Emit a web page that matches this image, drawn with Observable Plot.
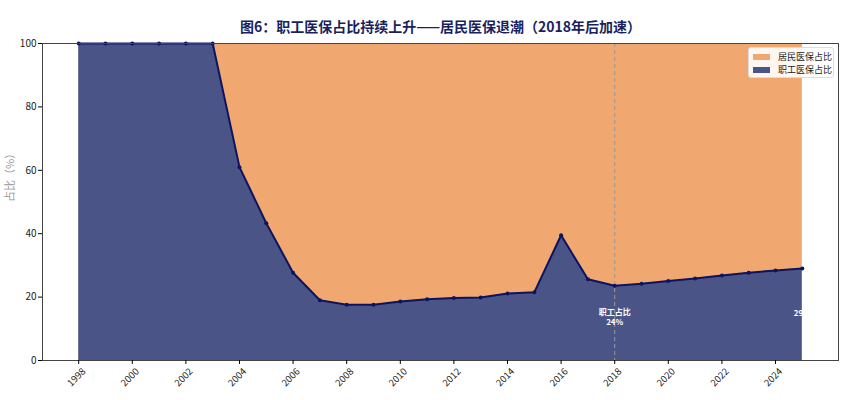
<!DOCTYPE html>
<html>
<head>
<meta charset="utf-8">
<script src="https://cdn.jsdelivr.net/npm/d3@7"></script>
<script src="https://cdn.jsdelivr.net/npm/@observablehq/plot@0.6"></script>
<style>
  body { margin: 0; background: #fff; }
  #wrap { position: relative; width: 851px; height: 400px; font-family: "Noto Sans CJK SC", "Noto Sans", sans-serif; }
  #legend { position: absolute; left: 748px; top: 47px; width: 86px; height: 31px; background: rgba(255,255,255,0.9); border: 1px solid #ddd; border-radius: 3px; box-sizing: border-box; font-size: 9px; color: #222; }
  .row { position: absolute; left: 4px; display: flex; align-items: center; line-height: 11px; }
  .sw { width: 17px; height: 6px; margin-right: 8px; }
</style>
</head>
<body>
<div id="wrap"></div>
<script>
const years = [1998,1999,2000,2001,2002,2003,2004,2005,2006,2007,2008,2009,2010,2011,2012,2013,2014,2015,2016,2017,2018,2019,2020,2021,2022,2023,2024,2025];
const employeeShare = [100,100,100,100,100,100,61.0,43.3,27.7,19.0,17.6,17.6,18.6,19.3,19.7,19.9,21.1,21.5,39.5,25.6,23.6,24.2,25.1,25.9,26.8,27.7,28.4,29.0];
const tickYears = [1998,2000,2002,2004,2006,2008,2010,2012,2014,2016,2018,2020,2022,2024];
const yTicks = [0,20,40,60,80,100];
const seriesNames = ["居民医保占比", "职工医保占比"];
const titleText = "图6：职工医保占比持续上升——居民医保退潮（2018年后加速）";
const yLabel = "占比（%）";
const annotations = [
  {year: 2018, y: 13.9, text: "职工占比\n24%"},
  {year: 2025, y: 15.1, text: "29%"}
];
const markerYear = 2018;

const data = years.map((year, i) => ({year, emp: employeeShare[i]}));
const NAVY_FILL = "#4b5487", ORANGE = "#f0a870", LINE = "#0b1460";
const font = '"Noto Sans CJK SC", "Noto Sans", sans-serif';

const chart = Plot.plot({
  width: 851,
  height: 400,
  marginLeft: 42,
  marginRight: 13,
  marginTop: 43,
  marginBottom: 40,
  style: {fontFamily: font, background: "#fff", overflow: "visible"},
  x: {domain: [1996.65, 2026.35], axis: null},
  y: {domain: [0, 100], axis: null},
  marks: [
    Plot.areaY(data, {x: "year", y1: "emp", y2: 100, fill: ORANGE}),
    Plot.areaY(data, {x: "year", y1: 0, y2: "emp", fill: NAVY_FILL}),
    Plot.ruleX([markerYear], {stroke: "#999", strokeWidth: 1, strokeDasharray: "4,3"}),
    Plot.line(data, {x: "year", y: "emp", stroke: LINE, strokeWidth: 2}),
    Plot.dot(data, {x: "year", y: "emp", fill: LINE, r: 2}),
    Plot.text(annotations, {x: "year", y: "y", text: "text", fill: "#fff", fontWeight: "bold", fontSize: 8, lineHeight: 1.25, lineAnchor: "middle"}),
    Plot.frame({stroke: "#444", strokeWidth: 1}),
    Plot.axisY({ticks: yTicks, tickSize: 4, fontSize: 10, fill: "#222", tickPadding: 2, label: null}),
    Plot.axisX({ticks: tickYears, tickSize: 4, tickFormat: () => "", label: null}),
    Plot.text(tickYears, {x: d => d, frameAnchor: "bottom", dy: 19, rotate: -45, text: d => String(d), fontSize: 9.5, fill: "#222", textAnchor: "middle"}),
    Plot.text([yLabel], {frameAnchor: "left", dx: -32, rotate: -90, text: d => d, fontSize: 11, fill: "#999"}),
    Plot.text([titleText], {frameAnchor: "top", dx: 0, dy: -21, text: d => d, fontSize: 14, fontWeight: "bold", fill: "#1a1f5e"})
  ]
});

const wrap = document.getElementById("wrap");
wrap.appendChild(chart);

const legend = document.createElement("div");
legend.id = "legend";
const colors = [ORANGE, NAVY_FILL];
seriesNames.forEach((name, i) => {
  const row = document.createElement("div");
  row.className = "row";
  row.style.top = (3 + i * 13) + "px";
  const sw = document.createElement("span");
  sw.className = "sw";
  sw.style.background = colors[i];
  const t = document.createElement("span");
  t.textContent = name;
  row.appendChild(sw); row.appendChild(t);
  legend.appendChild(row);
});
wrap.appendChild(legend);
</script>
</body>
</html>
